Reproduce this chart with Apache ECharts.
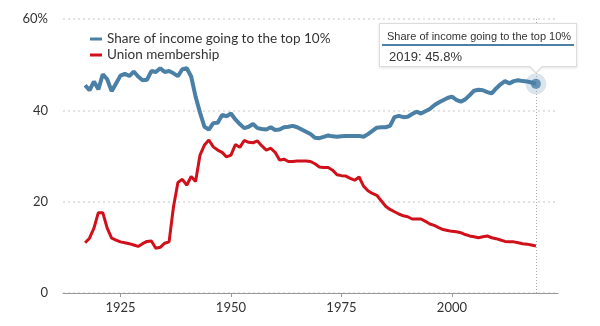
<!DOCTYPE html>
<html>
<head>
<meta charset="utf-8">
<script src="https://cdn.jsdelivr.net/npm/echarts@6/dist/echarts.min.js"></script>
<style>
html,body{margin:0;padding:0;background:#fff;}
#chart{width:600px;height:326px;}
</style>
</head>
<body>
<div id="chart"></div>
<script>
const years = [1917,1918,1919,1920,1921,1922,1923,1924,1925,1926,1927,1928,1929,1930,1931,1932,1933,1934,1935,1936,1937,1938,1939,1940,1941,1942,1943,1944,1945,1946,1947,1948,1949,1950,1951,1952,1953,1954,1955,1956,1957,1958,1959,1960,1961,1962,1963,1964,1965,1966,1967,1968,1969,1970,1971,1972,1973,1974,1975,1976,1977,1978,1979,1980,1981,1982,1983,1984,1985,1986,1987,1988,1989,1990,1991,1992,1993,1994,1995,1996,1997,1998,1999,2000,2001,2002,2003,2004,2005,2006,2007,2008,2009,2010,2011,2012,2013,2014,2015,2016,2017,2018,2019];

const topTenShare = [45.5,44.4,46.3,44.6,47.9,46.8,44.2,45.9,47.6,48.0,47.5,48.5,47.4,46.6,46.7,48.6,48.4,49.2,48.4,48.6,48.1,47.5,49.0,49.2,47.4,43.0,39.5,36.4,35.8,37.2,37.3,39.0,38.7,39.3,38.0,37.0,36.1,36.4,37.0,36.1,35.9,35.8,36.3,35.7,35.8,36.3,36.4,36.6,36.3,35.8,35.3,34.8,34.0,33.9,34.2,34.5,34.3,34.2,34.3,34.4,34.4,34.4,34.4,34.2,34.8,35.5,36.2,36.3,36.3,36.6,38.5,38.8,38.5,38.6,39.2,39.7,39.3,39.8,40.3,41.1,41.7,42.2,42.7,43.0,42.3,41.9,42.4,43.3,44.3,44.5,44.4,44.0,43.7,44.8,45.7,46.4,45.9,46.4,46.6,46.4,46.3,46.1,45.8];

const unionMembership = [11.0,12.0,14.2,17.6,17.6,14.2,12.0,11.6,11.2,11.0,10.8,10.5,10.2,10.8,11.3,11.4,9.8,10.0,10.9,11.2,18.9,24.2,24.9,23.6,25.5,24.4,30.2,32.4,33.5,32.0,31.3,30.8,29.8,30.2,32.5,31.9,33.4,33.0,32.9,33.3,32.2,31.3,31.7,30.8,29.1,29.3,28.8,28.8,28.9,28.9,28.9,28.8,28.3,27.6,27.5,27.5,26.9,25.9,25.7,25.6,25.1,24.7,25.4,23.4,22.4,21.8,21.4,20.2,19.0,18.3,17.8,17.3,16.9,16.7,16.2,16.2,16.2,15.7,15.1,14.8,14.3,13.9,13.7,13.5,13.4,13.2,12.8,12.5,12.3,12.1,12.3,12.5,12.1,11.9,11.6,11.3,11.2,11.2,11.0,10.8,10.7,10.5,10.3];

const seriesNames = ['Share of income going to the top 10%', 'Union membership'];
const xTickLabels = [1925, 1950, 1975, 2000];
const yTicks = [0, 20, 40, 60];

const BLUE = '#4a7fa6';
const RED = '#d0101a';
const FONT = 'Lato, "Open Sans", sans-serif';

const lastIdx = years.length - 1;
const lastYear = years[lastIdx];
const lastValue = topTenShare[lastIdx];

const chart = echarts.init(document.getElementById('chart'), null, {renderer: 'canvas'});

const option = {
  animation: false,
  grid: {left: 63, right: 42, top: 19, bottom: 33},
  legend: {
    orient: 'vertical',
    left: 85,
    top: 27,
    itemGap: 2,
    itemWidth: 12,
    itemHeight: 3,
    icon: 'rect',
    data: seriesNames,
    textStyle: {fontFamily: FONT, fontSize: 13.5, color: '#333', lineHeight: 13}
  },
  tooltip: {
    trigger: 'item',
    triggerOn: 'none',
    alwaysShowContent: true,
    transitionDuration: 0,
    padding: 0,
    backgroundColor: '#fff',
    borderColor: '#dcdcdc',
    borderWidth: 1,
    extraCssText: 'box-shadow:0 1px 3px rgba(0,0,0,0.12);border-radius:0;',
    position: function (pt, params, dom, rect, size) {
      return [pt[0] - size.contentSize[0] + 41, pt[1] - size.contentSize[1] - 17];
    },
    formatter: function (p) {
      const y = p.value[0], v = p.value[1];
      return '<div style="position:relative;width:192px;padding:5px 2px 2px 2px;">' +
        '<div style="padding:0 0 1px 5px;font:11px/14px \'Liberation Sans\',Arial,sans-serif;color:#333;border-bottom:2px solid ' + BLUE + ';white-space:nowrap;">' + seriesNames[0] + '</div>' +
        '<div style="padding:3px 0 0 7px;font:13px/15px \'Liberation Sans\',Arial,sans-serif;color:#333;white-space:nowrap;">' + y + ': ' + v.toFixed(1) + '%</div>' +
        '<div style="position:absolute;bottom:-8px;right:33px;width:0;height:0;border-left:7px solid transparent;border-right:7px solid transparent;border-top:7px solid #dcdcdc;"></div>' +
        '<div style="position:absolute;bottom:-6px;right:34px;width:0;height:0;border-left:6px solid transparent;border-right:6px solid transparent;border-top:6px solid #fff;"></div>' +
        '</div>';
    }
  },
  xAxis: {
    type: 'value',
    min: 1912,
    max: 2024,
    axisLine: {show: true, lineStyle: {color: '#999', width: 1}},
    axisTick: {show: true, length: 4, lineStyle: {color: '#999'}, customValues: xTickLabels},
    axisLabel: {
      customValues: xTickLabels,
      fontFamily: FONT, fontSize: 13, color: '#333', margin: 8,
      formatter: v => String(v)
    },
    splitLine: {show: false}
  },
  yAxis: {
    type: 'value',
    min: 0,
    max: 60,
    interval: 20,
    axisLine: {show: false},
    axisTick: {show: false},
    axisLabel: {
      fontFamily: FONT, fontSize: 13, color: '#333', margin: 15,
      formatter: v => (v === yTicks[yTicks.length - 1] ? v + '%' : String(v))
    },
    splitLine: {show: true, lineStyle: {color: '#d9d9d9', type: [2, 3], width: 1.5}}
  },
  series: [
    {
      name: seriesNames[0],
      type: 'line',
      data: years.map((y, i) => [y, topTenShare[i]]),
      showSymbol: false,
      symbol: 'none',
      lineStyle: {color: BLUE, width: 4},
      itemStyle: {color: BLUE},
      tooltip: {show: false},
      z: 3
    },
    {
      name: seriesNames[1],
      type: 'line',
      data: years.map((y, i) => [y, unionMembership[i]]),
      showSymbol: false,
      symbol: 'none',
      lineStyle: {color: RED, width: 3},
      itemStyle: {color: RED},
      tooltip: {show: false},
      z: 2
    },
    {
      name: 'halo',
      type: 'scatter',
      data: [[lastYear, lastValue]],
      symbolSize: 21,
      itemStyle: {color: 'rgba(74,127,166,0.25)'},
      silent: true,
      tooltip: {show: false},
      z: 4,
      markLine: {
        silent: true,
        symbol: 'none',
        label: {show: false},
        lineStyle: {color: '#aaa', type: [1, 2], width: 1},
        data: [{xAxis: lastYear}]
      }
    },
    {
      name: 'point',
      type: 'scatter',
      data: [[lastYear, lastValue]],
      symbolSize: 10,
      itemStyle: {color: BLUE},
      z: 5
    }
  ]
};

chart.setOption(option);
chart.dispatchAction({type: 'showTip', seriesIndex: 3, dataIndex: 0});
</script>
</body>
</html>
